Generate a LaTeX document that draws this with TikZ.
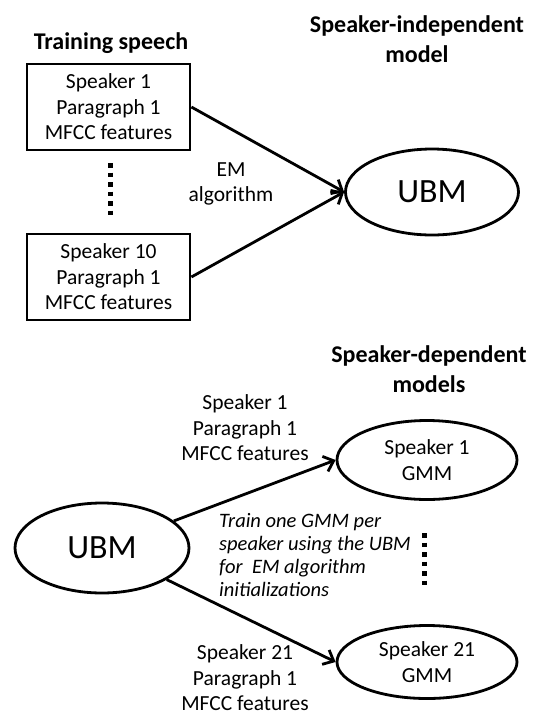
\documentclass[tikz,border=0pt]{standalone}
\usepackage{fontspec}
\setmainfont{Carlito}
\usetikzlibrary{arrows.meta,shapes.geometric}

\begin{document}
\begin{tikzpicture}[x=1pt,y=-1pt,>={Straight Barb[length=9pt,width=16pt]}]
  \tikzstyle{speech}=[draw, line width=2.8pt, minimum width=163pt, minimum height=86pt, align=center, font=\fontsize{21.5}{25.5}\selectfont]
  \tikzstyle{model}=[draw, ellipse, line width=2.8pt, inner sep=0pt, align=center, font=\fontsize{21.5}{25.5}\selectfont]
  \tikzstyle{heading}=[align=center, font=\fontsize{24}{30}\selectfont\bfseries]
  \tikzstyle{note}=[align=center, font=\fontsize{21.5}{25.5}\selectfont]
  \tikzstyle{arrow}=[->, line width=2.8pt]
  \tikzstyle{dots}=[line width=5pt, dash pattern=on 4.5pt off 5pt]

  \useasboundingbox (0,0) rectangle (539,716);

  % training
  \node[heading] (title1) at (111,43) {Training speech};
  \node[heading] (title2) at (417,39) {Speaker-independent\\model};
  \node[speech] (s1) at (108.5,107) {Speaker 1\\Paragraph 1\\MFCC features};
  \node[speech] (s10) at (108.5,277) {Speaker 10\\Paragraph 1\\MFCC features};
  \node[model, minimum width=173pt, minimum height=86pt, font=\fontsize{34}{40}\selectfont] (ubm) at (432,192) {UBM};
  \coordinate (d1a) at (110,163);
  \coordinate (d1b) at (110,215);
  \draw[dots] (d1a) -- (d1b);

  \draw[arrow] (s1.east) -- (ubm.west);
  \draw[arrow] (s10.east) -- (ubm.west);
  \node[note] (em) at (231,184) {EM\\algorithm};

  % adaptation
  \node[heading] (title3) at (429,369) {Speaker-dependent\\models};
  \node[model, minimum width=174pt, minimum height=90pt, font=\fontsize{34}{40}\selectfont] (ubm2) at (102,548) {UBM};
  \node[model, minimum width=180pt, minimum height=79pt] (g1) at (427,460) {Speaker 1\\GMM};
  \node[model, minimum width=180pt, minimum height=73pt] (g21) at (427,662) {Speaker 21\\GMM};

  \draw[arrow] (ubm2) -- (g1.west);
  \draw[arrow] (ubm2) -- (g21.west);
  \node[note] (f1) at (245,428) {Speaker 1\\Paragraph 1\\MFCC features};
  \node[note] (f21) at (245,678) {Speaker 21\\Paragraph 1\\MFCC features};
  \node[align=left, anchor=west, inner sep=0pt, font=\fontsize{20.5}{23}\selectfont\itshape] (train) at (219,555) {Train one GMM per\\speaker using the UBM\\for~ EM algorithm\\initializations};
  \coordinate (d2a) at (424,533);
  \coordinate (d2b) at (424,585);
  \draw[dots] (d2a) -- (d2b);
\end{tikzpicture}
\end{document}
